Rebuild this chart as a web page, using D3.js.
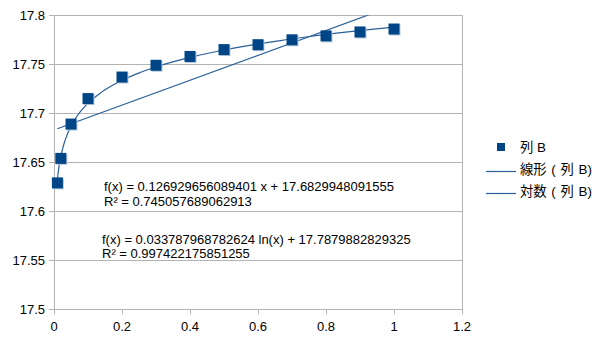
<!DOCTYPE html>
<html>
<head>
<meta charset="utf-8">
<script src="https://cdn.jsdelivr.net/npm/d3@7"></script>
<style>
  html, body { margin: 0; padding: 0; background: #fff; }
  svg { display: block; }
  text { font-family: "Liberation Sans", Arial, sans-serif; fill: #000; }
  .cjk { font-family: "Liberation Sans", "Noto Sans CJK JP", sans-serif; }
</style>
</head>
<body>
<svg id="chart" width="605" height="340"></svg>
<script>
// Measured series "列 B"
const xValues = [0.01, 0.02, 0.05, 0.1, 0.2, 0.3, 0.4, 0.5, 0.6, 0.7, 0.8, 0.9, 1.0];
const yValues = [17.629, 17.654, 17.689, 17.715, 17.737, 17.749, 17.758, 17.765, 17.770, 17.775, 17.779, 17.783, 17.786];

// Trend line coefficients
const linSlope = 0.126929656089401, linIntercept = 17.6829948091555, linR2 = 0.745057689062913;
const logCoef = 0.033787968782624, logIntercept = 17.7879882829325, logR2 = 0.997422175851255;

const xTicks = [0, 0.2, 0.4, 0.6, 0.8, 1, 1.2];
const yTicks = [17.5, 17.55, 17.6, 17.65, 17.7, 17.75, 17.8];

const seriesName = "列 B";
const legendLabels = [seriesName, "線形 ( 列 B)", "対数 ( 列 B)"];

const markerColor = "#004586";
const trendColor = "#2a6099";
const gridColor = "#b3b3b3";
const fontSize = "13px";

const svg = d3.select("#chart");
const plotLeft = 54, plotRight = 462, plotTop = 15.3, plotBottom = 309.3;

const x = d3.scaleLinear().domain([0, 1.2]).range([plotLeft, plotRight]);
const y = d3.scaleLinear().domain([17.5, 17.8]).range([plotBottom, plotTop]);

// gridlines
svg.append("g").selectAll("line").data(yTicks).join("line")
  .attr("x1", plotLeft - 5).attr("x2", plotRight)
  .attr("y1", d => Math.round(y(d)) + 0.5).attr("y2", d => Math.round(y(d)) + 0.5)
  .attr("stroke", gridColor).attr("stroke-width", 1);

// plot frame verticals
svg.append("line").attr("x1", Math.round(plotLeft) + 0.5).attr("x2", Math.round(plotLeft) + 0.5)
  .attr("y1", plotTop).attr("y2", plotBottom + 5).attr("stroke", gridColor);
svg.append("line").attr("x1", Math.round(plotRight) + 0.5).attr("x2", Math.round(plotRight) + 0.5)
  .attr("y1", plotTop).attr("y2", plotBottom + 5).attr("stroke", gridColor);

// x ticks
svg.append("g").selectAll("line").data(xTicks).join("line")
  .attr("x1", d => Math.round(x(d)) + 0.5).attr("x2", d => Math.round(x(d)) + 0.5)
  .attr("y1", plotBottom).attr("y2", plotBottom + 5)
  .attr("stroke", gridColor);

// tick labels
svg.append("g").selectAll("text").data(yTicks).join("text")
  .attr("x", plotLeft - 9).attr("y", d => y(d) + 5)
  .attr("text-anchor", "end").attr("font-size", fontSize)
  .text(d => +d.toFixed(2));

svg.append("g").selectAll("text").data(xTicks).join("text")
  .attr("x", d => x(d)).attr("y", plotBottom + 22)
  .attr("text-anchor", "middle").attr("font-size", fontSize)
  .text(d => +d.toFixed(1));

// clip for trend lines
svg.append("clipPath").attr("id", "plotClip")
  .append("rect").attr("x", plotLeft).attr("y", plotTop).attr("width", plotRight - plotLeft).attr("height", plotBottom - plotTop);

const xMin = d3.min(xValues), xMax = d3.max(xValues);
const linLine = d3.line().x(d => x(d[0])).y(d => y(d[1]));
svg.append("path")
  .datum([[xMin, linIntercept + linSlope * xMin], [xMax, linIntercept + linSlope * xMax]])
  .attr("d", linLine).attr("fill", "none").attr("stroke", trendColor).attr("stroke-width", 1.2)
  .attr("clip-path", "url(#plotClip)");

const logPts = d3.range(0, 301).map(i => {
  const xv = xMin * Math.pow(xMax / xMin, i / 300);
  return [xv, logIntercept + logCoef * Math.log(xv)];
});
svg.append("path")
  .datum(logPts)
  .attr("d", d3.line().x(d => x(d[0])).y(d => y(d[1])))
  .attr("fill", "none").attr("stroke", trendColor).attr("stroke-width", 1.2)
  .attr("clip-path", "url(#plotClip)");

// markers
const pts = xValues.map((v, i) => [v, yValues[i]]);
const ms = 11;
const mk = svg.append("g");
mk.selectAll("rect.sh").data(pts).join("rect").attr("class", "sh")
  .attr("x", d => x(d[0]) - ms / 2 + 1).attr("y", d => y(d[1]) - ms / 2 + 1)
  .attr("width", ms).attr("height", ms).attr("fill", "#b7c8dc");
mk.selectAll("rect.m").data(pts).join("rect").attr("class", "m")
  .attr("x", d => x(d[0]) - ms / 2).attr("y", d => y(d[1]) - ms / 2)
  .attr("width", ms).attr("height", ms).attr("fill", markerColor);

// regression equations
const eq = svg.append("g").attr("font-size", fontSize);
eq.append("text").attr("x", 104).attr("y", 191)
  .text(`f(x) = ${linSlope} x + ${linIntercept}`);
eq.append("text").attr("x", 104).attr("y", 205.5)
  .text(`R² = ${linR2}`);
eq.append("text").attr("x", 102).attr("y", 243.5)
  .text(`f(x) = ${logCoef} ln(x) + ${logIntercept}`);
eq.append("text").attr("x", 102).attr("y", 258)
  .text(`R² = ${logR2}`);

// legend
const lg = svg.append("g");
lg.append("rect").attr("x", 497).attr("y", 143).attr("width", 8).attr("height", 8).attr("fill", markerColor);
lg.append("line").attr("x1", 486).attr("x2", 516).attr("y1", 171.5).attr("y2", 171.5).attr("stroke", trendColor).attr("stroke-width", 1.2);
lg.append("line").attr("x1", 486).attr("x2", 516).attr("y1", 193.5).attr("y2", 193.5).attr("stroke", trendColor).attr("stroke-width", 1.2);
lg.selectAll("text").data(legendLabels).join("text")
  .attr("class", "cjk").attr("font-size", "13.33px")
  .attr("x", 520).attr("y", (d, i) => 152 + i * 22)
  .attr("word-spacing", (d, i) => i === 0 ? 0 : 1)
  .text(d => d);
</script>
</body>
</html>
